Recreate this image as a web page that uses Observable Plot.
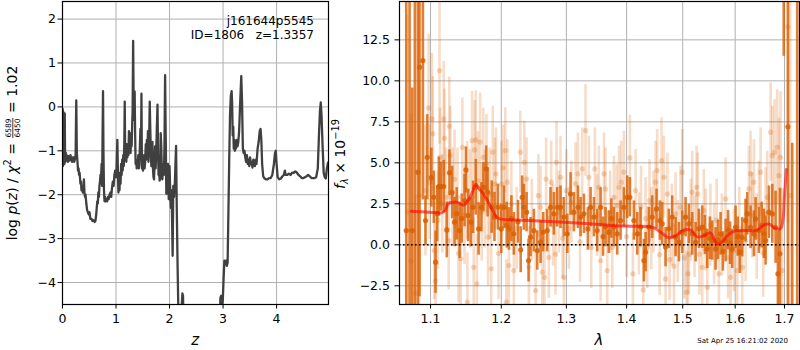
<!DOCTYPE html>
<html><head><meta charset="utf-8">
<script src="https://cdn.jsdelivr.net/npm/d3@7"></script>
<script src="https://cdn.jsdelivr.net/npm/@observablehq/plot@0.6"></script>
<style>
body{margin:0;background:#fff;}
#wrap{position:relative;width:800px;height:350px;overflow:hidden;font-family:"DejaVu Sans",sans-serif;}
#wrap svg{position:absolute;top:0;}
#wrap svg text{white-space:pre;}
</style></head><body><div id="wrap"></div>
<script>
// ---------- Left panel: log p(z) ----------
const pzZ = [0.000,0.004,0.008,0.012,0.016,0.020,0.024,0.030,0.036,0.042,0.048,0.055,0.062,0.070,0.078,0.086,0.094,0.102,0.110,0.120,0.130,0.140,0.150,0.160,0.170,0.180,0.190,0.200,0.210,0.220,0.235,0.245,0.257,0.268,0.280,0.290,0.300,0.310,0.320,0.335,0.345,0.355,0.370,0.380,0.390,0.400,0.410,0.420,0.430,0.445,0.460,0.475,0.490,0.505,0.520,0.540,0.560,0.580,0.600,0.615,0.630,0.640,0.650,0.660,0.670,0.680,0.690,0.700,0.710,0.720,0.730,0.740,0.750,0.757,0.765,0.775,0.785,0.795,0.805,0.820,0.835,0.850,0.865,0.880,0.895,0.910,0.925,0.940,0.955,0.970,0.985,1.000,1.010,1.025,1.035,1.045,1.055,1.065,1.075,1.085,1.095,1.105,1.115,1.125,1.135,1.145,1.155,1.163,1.172,1.182,1.192,1.202,1.212,1.222,1.232,1.242,1.252,1.262,1.272,1.282,1.292,1.302,1.310,1.320,1.330,1.340,1.348,1.356,1.366,1.376,1.386,1.396,1.406,1.416,1.426,1.436,1.446,1.456,1.466,1.475,1.484,1.494,1.504,1.514,1.524,1.534,1.544,1.556,1.566,1.576,1.586,1.596,1.606,1.616,1.630,1.640,1.650,1.660,1.670,1.680,1.690,1.700,1.710,1.720,1.730,1.740,1.750,1.760,1.775,1.785,1.795,1.805,1.815,1.825,1.835,1.845,1.855,1.865,1.875,1.885,1.895,1.905,1.917,1.928,1.940,1.955,1.970,1.985,2.000,2.015,2.025,2.035,2.045,2.058,2.070,2.085,2.100,2.122,2.135,2.150,2.170,2.200,2.225,2.240,2.252,2.265,2.300,2.900,2.940,2.950,2.965,2.980,2.995,3.010,3.025,3.040,3.055,3.070,3.085,3.100,3.115,3.130,3.145,3.160,3.170,3.180,3.190,3.200,3.210,3.220,3.230,3.240,3.255,3.270,3.285,3.300,3.320,3.340,3.355,3.370,3.385,3.400,3.415,3.430,3.445,3.460,3.475,3.490,3.505,3.520,3.535,3.550,3.565,3.580,3.595,3.610,3.625,3.645,3.665,3.685,3.700,3.715,3.730,3.750,3.770,3.800,3.830,3.860,3.890,3.920,3.950,3.970,3.985,4.000,4.020,4.050,4.080,4.110,4.135,4.155,4.170,4.200,4.230,4.260,4.290,4.320,4.350,4.380,4.410,4.440,4.470,4.500,4.530,4.560,4.590,4.620,4.650,4.680,4.710,4.740,4.770,4.790,4.810,4.825,4.840,4.860,4.880,4.900,4.920,4.940,4.960,4.970];
const pzLogP = [-1.20,-0.05,-1.35,-0.10,-1.30,-0.60,-1.25,-0.20,-1.30,-0.15,-1.10,-1.25,-1.05,-1.20,-1.10,-1.22,-1.15,-1.25,-1.12,-1.20,-1.15,-1.22,-1.10,-1.20,-1.18,-1.25,-1.15,-1.20,-1.15,-1.25,-1.18,-1.10,0.15,-1.05,-1.25,-1.45,-1.40,-1.55,-1.50,-1.75,-1.70,-1.90,-1.85,-1.95,-1.90,-1.65,-1.95,-2.05,-2.00,-2.20,-2.35,-2.40,-2.45,-2.40,-2.55,-2.55,-2.60,-2.58,-2.62,-2.60,-2.45,-2.30,-2.15,-2.20,-1.95,-2.05,-1.80,-1.70,-1.55,-1.65,-1.30,-1.80,-0.50,0.36,-1.00,-1.90,-2.15,-2.05,-2.15,-2.10,-2.15,-2.05,-2.10,-2.00,-1.95,-2.05,-1.85,-1.70,-1.80,-1.55,-1.45,-1.60,-1.40,-0.75,-1.50,-1.95,-1.70,-1.90,-1.50,-1.75,-1.30,-1.55,-1.20,-1.45,-1.10,-1.35,-0.80,0.12,-1.20,-1.00,-1.25,-0.85,-1.15,-0.95,-1.10,-0.55,-1.00,-0.80,-1.05,-0.60,-0.90,-0.40,-0.10,1.50,0.00,-0.30,0.35,-0.50,-1.30,-1.20,-1.40,-1.30,-1.35,-1.10,-1.40,-1.30,-0.90,-0.50,-1.20,0.30,-1.40,-1.30,-1.45,-1.35,-1.10,-1.40,-1.25,-0.85,-1.20,-0.75,-1.10,-0.55,-1.25,-1.00,0.12,-0.50,-1.00,-1.35,-1.10,-0.80,-1.40,-1.60,-1.65,-1.30,-0.90,-1.40,-1.10,-0.60,0.05,-1.00,-1.55,-1.45,-1.68,-1.60,-0.60,-0.90,-1.40,-1.65,-1.50,-1.30,-1.55,-0.90,0.72,-0.60,-1.98,-1.50,-1.30,-2.10,-1.35,-2.00,-2.30,-1.90,-2.40,-3.39,-1.80,-2.05,-1.70,-0.89,-2.30,-3.60,-5.00,-7.00,-4.60,-4.25,-4.30,-5.50,-8.00,-8.00,-5.00,-4.35,-4.30,-4.60,-4.40,-3.90,-3.50,-3.55,-3.50,-3.62,-3.55,-2.40,-1.20,-0.20,0.25,0.36,0.05,-0.65,-0.45,-0.95,-0.75,-1.00,-0.80,-0.95,-0.75,-0.90,-0.80,-0.55,0.10,0.70,0.10,-0.95,-1.05,-1.00,-1.15,-1.25,-1.10,-1.30,-1.20,-1.35,-1.15,-1.30,-1.25,-1.38,-1.20,-1.30,-1.35,-1.20,-1.30,-0.95,-0.80,-0.55,-0.50,-0.75,-1.30,-1.58,-1.62,-1.65,-1.65,-1.62,-1.62,-1.55,-1.30,-1.05,-1.00,-1.30,-1.60,-1.65,-1.63,-1.58,-1.55,-1.45,-1.55,-1.55,-1.52,-1.55,-1.50,-1.50,-1.47,-1.50,-1.55,-1.58,-1.62,-1.62,-1.60,-1.58,-1.55,-1.58,-1.62,-1.62,-1.62,-1.60,-1.40,-0.70,-0.10,0.10,-0.20,-0.90,-1.50,-1.60,-1.63,-1.40,-1.27,-1.30];
const zTicks = [0,1,2,3,4];
const logpTicks = [-4,-3,-2,-1,0,1,2];
const objName = "j161644p5545";
const objInfo = "ID=1806   z=1.3357";

// ---------- Right panel: spectrum ----------
const darkLam = [1.0676,1.0720,1.0755,1.0790,1.0830,1.0852,1.0897,1.0932,1.0955,1.1010,1.1045,1.1068,1.1090,1.1113,1.1140,1.1180,1.1222,1.1259,1.1296,1.1330,1.1360,1.1400,1.1430,1.1470,1.1490,1.1520,1.1560,1.1590,1.1630,1.1670,1.1710,1.1740,1.1780,1.1800,1.1860,1.1900,1.1950,1.2000,1.2040,1.2080,1.2113,1.2150,1.2187,1.2250,1.2290,1.2312,1.2338,1.2379,1.2410,1.2440,1.2491,1.2542,1.2594,1.2635,1.2697,1.2749,1.2802,1.2854,1.2907,1.2960,1.3014,1.3067,1.3121,1.3186,1.3229,1.3284,1.3349,1.3393,1.3448,1.3503,1.3559,1.3600,1.3642,1.3697,1.3740,1.3783,1.3839,1.3896,1.3953,1.4010,1.4056,1.4126,1.4184,1.4242,1.4301,1.4331,1.4389,1.4448,1.4525,1.4585,1.4627,1.4687,1.4747,1.4808,1.4869,1.4930,1.4991,1.5053,1.5115,1.5177,1.5240,1.5301,1.5364,1.5415,1.5460,1.5510,1.5555,1.5619,1.5665,1.5715,1.5760,1.5812,1.5860,1.5900,1.5942,1.6008,1.6050,1.6093,1.6140,1.6206,1.6239,1.6306,1.6373,1.6406,1.6474,1.6530,1.6575,1.6610,1.6678,1.6747,1.6815,1.6863,1.6905,1.6985,1.7072,1.7163,1.7269];
const darkFlux = [0.87,18,0.87,18,4.43,10.83,11.24,1.48,5.34,4.10,2.90,-1.06,1.90,3.55,3.55,3.55,0.91,4.39,3.19,1.38,1.89,0.87,1.60,2.70,4.57,1.79,1.38,2.29,3.51,0.97,2.29,3.51,4.63,3.20,2.30,1.70,2.30,0.97,2.29,1.20,0.97,1.60,0.67,1.40,-0.30,2.90,2.29,1.99,-0.96,0.47,0.87,-0.35,0.16,0.77,0.87,2.29,1.89,2.29,2.29,1.69,0.67,3.10,1.99,2.29,1.69,1.89,0.97,2.29,1.69,0.87,2.29,0.50,1.08,0.77,1.60,1.08,0.67,1.48,2.29,2.90,2.90,1.48,0.67,1.08,-0.96,-0.45,1.08,1.69,2.19,1.48,1.28,-0.14,0.98,1.69,0.47,0.16,0.77,1.69,1.28,0.67,0.16,0.98,1.08,0.60,-0.25,0.40,0.26,-0.25,0.30,0.67,-0.40,0.26,0.90,0.10,-0.25,1.07,0.50,-0.45,0.46,1.48,1.89,1.07,0.67,1.58,0.87,1.20,0.67,0.26,1.99,1.89,1.07,-1.77,-0.55,22,7.20,-6.0,20];
const darkErr = [22,22,8.7,22,12,14,8.5,1.5,2.6,1.8,1.6,1.9,1.7,1.8,1.5,1.6,1.7,1.4,1.6,1.5,1.6,1.7,1.5,1.6,1.4,1.6,1.5,1.6,1.7,1.6,1.5,1.5,1.4,1.5,1.6,1.5,1.4,1.5,1.3,1.4,1.3,1.4,1.3,1.3,1.4,1.3,1.4,1.2,1.3,1.2,1.3,1.2,1.3,1.2,1.3,1.2,1.3,1.2,1.3,1.2,1.2,1.3,1.2,1.3,1.2,1.2,1.3,1.2,1.2,1.3,1.2,1.2,1.2,1.3,1.2,1.2,1.3,1.2,1.2,1.3,1.2,1.2,1.3,1.2,1.3,1.2,1.2,1.3,1.2,1.2,1.3,1.2,1.2,1.3,1.2,1.2,1.3,1.2,1.2,1.3,1.2,1.2,1.3,1.2,1.2,1.3,1.2,1.3,1.2,1.3,1.2,1.3,1.2,1.3,1.2,1.3,1.2,1.3,1.2,1.3,1.3,1.3,1.4,1.3,1.4,1.4,1.5,1.5,1.6,1.8,2.2,2.6,4.0,10.5,20,12.2,30];

const lightLam = [1.0690,1.0740,1.0799,1.0850,1.0932,1.0973,1.0986,1.1018,1.1031,1.1050,1.1068,1.1100,1.1122,1.1131,1.1160,1.1180,1.1190,1.1212,1.1248,1.1257,1.1270,1.1302,1.1330,1.1370,1.1385,1.1416,1.1439,1.1470,1.1507,1.1510,1.1545,1.1576,1.1600,1.1613,1.1630,1.1645,1.1660,1.1692,1.1715,1.1737,1.1760,1.1783,1.1806,1.1830,1.1852,1.1875,1.1907,1.1921,1.1960,1.2004,1.2030,1.2060,1.2075,1.2090,1.2113,1.2150,1.2187,1.2230,1.2284,1.2345,1.2379,1.2415,1.2460,1.2517,1.2560,1.2594,1.2620,1.2655,1.2680,1.2723,1.2760,1.2790,1.2828,1.2843,1.2880,1.2907,1.2940,1.2960,1.3000,1.3040,1.3080,1.3147,1.3186,1.3220,1.3256,1.3310,1.3365,1.3404,1.3464,1.3500,1.3530,1.3559,1.3615,1.3640,1.3670,1.3720,1.3755,1.3783,1.3830,1.3870,1.3907,1.3953,1.4000,1.4056,1.4108,1.4155,1.4213,1.4250,1.4289,1.4330,1.4360,1.4400,1.4430,1.4470,1.4508,1.4537,1.4580,1.4615,1.4657,1.4687,1.4720,1.4760,1.4800,1.4840,1.4869,1.4910,1.4960,1.4991,1.5030,1.5070,1.5096,1.5115,1.5150,1.5177,1.5220,1.5258,1.5280,1.5312,1.5364,1.5395,1.5430,1.5460,1.5520,1.5590,1.5640,1.5683,1.5740,1.5812,1.5860,1.5910,1.5975,1.6041,1.6080,1.6140,1.6206,1.6272,1.6306,1.6340,1.6373,1.6430,1.6474,1.6508,1.6560,1.6610,1.6644,1.6713,1.6747,1.6794,1.6849,1.6884,1.6918,1.6953,1.7072,1.7120];
const lightFlux = [2.0,-1.0,-2.95,3.0,3.31,8.35,3.82,7.68,6.77,-0.35,-2.18,1.50,10.63,5.34,2.50,7.68,6.50,2.90,0.26,7.23,5.44,2.90,4.00,2.90,-0.53,-0.85,5.95,1.80,3.31,-3.50,2.80,6.36,-1.37,5.79,6.40,-2.38,3.90,6.26,2.00,5.34,2.80,4.94,0.47,3.10,-1.46,5.65,3.71,4.33,-0.53,3.71,4.70,5.75,-3.50,3.82,-1.26,2.50,-1.57,1.00,5.65,5.03,4.01,-1.37,1.50,-2.79,3.00,2.29,-1.67,-1.98,4.01,-0.77,3.82,1.20,-0.57,5.03,2.00,4.12,0.40,-1.98,3.30,1.00,2.60,3.72,4.33,0.20,4.63,6.97,4.12,-0.16,4.63,1.80,3.51,-0.96,4.33,3.41,-1.57,2.00,-0.16,2.90,2.39,3.51,3.82,4.43,0.50,5.30,-1.77,3.31,0.67,2.30,-2.75,1.60,-0.16,2.70,0.98,2.00,3.82,4.53,-0.60,5.14,4.12,-2.08,3.10,-0.90,1.20,-1.30,1.89,0.20,2.29,4.43,-0.80,-2.89,-1.77,-0.57,1.50,3.21,0.50,3.51,3.10,-0.57,-1.37,2.10,0.90,-2.59,1.20,0.06,1.50,-1.77,0.60,2.80,-0.80,-1.98,-0.35,-1.57,1.00,-1.37,0.26,3.41,4.33,1.80,3.82,0.50,2.39,4.43,-0.50,1.89,2.90,6.87,5.44,5.65,5.95,4.22,5.34,-1.57,13.30,3.0];
const lightErr = [12,9,6,7,4,4.5,3.5,4,3.5,3,3.5,3,4.5,3,3,3.5,3,3,3,3,3,3,3,3,3,3,3,3,3,3,3,3,3,3,3,3,3,3,3,3,3,3,3,2.8,2.8,2.8,2.8,2.8,2.8,2.6,2.6,2.6,2.6,2.6,2.6,2.6,2.6,2.5,2.5,2.5,2.5,2.5,2.5,2.5,2.5,2.5,2.5,2.5,2.5,2.5,2.5,2.5,2.5,2.5,2.5,2.5,2.5,2.5,2.5,2.5,2.5,2.5,2.5,2.5,2.5,2.8,2.5,2.5,2.5,2.5,2.5,2.5,2.5,2.5,2.5,2.5,2.5,2.5,2.5,2.5,2.5,2.5,2.5,2.6,2.5,2.5,2.5,2.5,2.5,2.5,2.5,2.5,2.5,2.5,2.5,2.5,2.5,2.6,2.5,2.5,2.5,2.5,2.5,2.5,2.5,2.5,2.5,2.6,2.5,2.5,2.5,2.5,2.5,2.5,2.5,2.5,2.5,2.5,2.5,2.5,2.5,2.5,2.5,2.5,2.5,2.5,2.5,2.5,2.5,2.5,2.5,2.5,2.5,2.5,2.5,2.6,2.6,2.6,2.6,2.6,2.7,2.7,2.7,2.8,2.8,3,3,3.2,3.5,3.5,4,5,12,20];

const modelLam = [1.074,1.090,1.105,1.115,1.120,1.124,1.130,1.137,1.145,1.152,1.158,1.163,1.168,1.174,1.181,1.188,1.193,1.198,1.250,1.296,1.350,1.380,1.407,1.445,1.460,1.475,1.487,1.502,1.515,1.527,1.540,1.552,1.565,1.575,1.585,1.600,1.644,1.657,1.670,1.680,1.692,1.697,1.700,1.704];
const modelFlux = [2.05,2.02,1.97,1.95,2.10,2.50,2.60,2.60,2.42,2.70,3.20,3.70,3.40,3.10,2.60,2.05,1.70,1.58,1.47,1.38,1.25,1.16,1.13,1.07,0.77,0.43,0.56,0.90,0.90,0.48,0.56,0.73,0.05,0.20,0.57,0.85,0.90,1.20,1.25,1.00,1.00,1.60,3.00,4.60];
const lamTicks = [1.1,1.2,1.3,1.4,1.5,1.6,1.7];
const fluxTicks = [-2.5,0,2.5,5,7.5,10,12.5];
const stamp = "Sat Apr 25 16:21:02 2020";

// ---------- drawing ----------
const wrap = document.getElementById("wrap");
const FONT = "DejaVu Sans";
const minus = d => d < 0 ? "\u2212" + Math.abs(d) : String(d);
const gridC = "#b0b0b0";
const orange = "#d95f02";

const leftSvg = Plot.plot({
  width: 340, height: 350,
  marginLeft: 62, marginRight: 12, marginTop: 1, marginBottom: 46,
  style: {fontFamily: FONT, fontSize: "12.5px", color: "#000", background: "transparent", overflow: "visible"},
  x: {domain: [0, 4.97], ticks: zTicks, tickFormat: minus, label: null, tickSize: 4.5, tickPadding: 5},
  y: {domain: [-4.5, 2.4], ticks: logpTicks, tickFormat: minus, label: null, tickSize: 4.5, tickPadding: 2},
  marks: [
    Plot.ruleX(zTicks, {stroke: gridC, strokeWidth: 1}),
    Plot.ruleY(logpTicks, {stroke: gridC, strokeWidth: 1}),
    Plot.line(pzZ.map((z, i) => ({z, v: pzLogP[i]})), {x: "z", y: "v", stroke: "#404040", strokeWidth: 2.3, clip: true}),
    Plot.frame({stroke: "#000", strokeWidth: 1.2})
  ]
});
leftSvg.style.left = "0px";
wrap.appendChild(leftSvg);

const dIdx = d3.range(darkLam.length);
const lIdx = d3.range(lightLam.length);
const rightSvg = Plot.plot({
  width: 470, height: 350,
  marginLeft: 69, marginRight: 1, marginTop: 1, marginBottom: 46,
  style: {fontFamily: FONT, fontSize: "12.5px", color: "#000", background: "transparent", overflow: "visible"},
  x: {type: "log", domain: [1.0588, 1.7317], ticks: lamTicks, tickFormat: d3.format(".1f"), label: null, tickSize: 4.5, tickPadding: 5},
  y: {domain: [-3.64, 14.84], ticks: fluxTicks, tickFormat: d3.format(".1f"), label: null, tickSize: 4.5, tickPadding: 5},
  marks: [
    Plot.ruleX(lamTicks, {stroke: gridC, strokeWidth: 1}),
    Plot.ruleY(fluxTicks, {stroke: gridC, strokeWidth: 1}),
    Plot.ruleX(lIdx, {x: i => lightLam[i], y1: i => lightFlux[i] - lightErr[i], y2: i => lightFlux[i] + lightErr[i], stroke: orange, strokeOpacity: 0.22, strokeWidth: 2.6, clip: true}),
    Plot.dot(lIdx, {x: i => lightLam[i], y: i => lightFlux[i], r: 2.6, fill: orange, fillOpacity: 0.25, stroke: "none", clip: true}),
    Plot.ruleX(dIdx, {x: i => darkLam[i], y1: i => darkFlux[i] - darkErr[i], y2: i => darkFlux[i] + darkErr[i], stroke: orange, strokeOpacity: 0.8, strokeWidth: 2.6, clip: true}),
    Plot.dot(dIdx, {x: i => darkLam[i], y: i => darkFlux[i], r: 2.6, fill: orange, fillOpacity: 0.85, stroke: "none", clip: true}),
    Plot.ruleY([0], {stroke: "#000", strokeWidth: 1.6, strokeDasharray: "1.6,2.4"}),
    Plot.line(modelLam.map((l, i) => ({l, f: modelFlux[i]})), {x: "l", y: "f", stroke: "red", strokeOpacity: 0.6, strokeWidth: 3, curve: "catmull-rom", clip: true}),
    Plot.frame({stroke: "#000", strokeWidth: 1.2})
  ]
});
rightSvg.style.left = "330px";
wrap.appendChild(rightSvg);

// ---------- overlay labels ----------
const ov = d3.select(wrap).append("svg").attr("width", 800).attr("height", 350)
  .style("left", "0px").style("pointer-events", "none")
  .attr("font-family", FONT);

// in-panel annotation, right edge at x=314
function rightText(str, xr, y, fs) {
  const t = ov.append("text").attr("y", y).attr("font-size", fs).attr("xml:space", "preserve").text(str);
  const w = t.node().getComputedTextLength();
  t.attr("x", xr - w);
  return t;
}
rightText(objName, 314, 25, 12);
rightText(objInfo, 314, 38.5, 12);

// left y label
const LFS = 14;
const gL = ov.append("g");
const t1 = gL.append("text").attr("font-size", LFS).attr("fill", "#000");
t1.append("tspan").text("log ");
t1.append("tspan").attr("font-style", "italic").text("p");
t1.append("tspan").text("(");
t1.append("tspan").attr("font-style", "italic").text("z");
t1.append("tspan").text(") / ");
t1.append("tspan").attr("font-style", "italic").text("\u03c7");
t1.append("tspan").attr("font-size", LFS * 0.7).attr("dy", -LFS * 0.42).text("2");
t1.append("tspan").attr("dy", LFS * 0.42).text(" = ");
const w1 = t1.node().getComputedTextLength();
const FFS = 7.5, barY = -LFS * 0.3;
const num = gL.append("text").attr("font-size", FFS).attr("x", w1 + 1).attr("y", barY - 1.6).text("6589");
const den = gL.append("text").attr("font-size", FFS).attr("x", w1 + 1).attr("y", barY + 1.4 + FFS * 0.73).text("6450");
const fw = Math.max(num.node().getComputedTextLength(), den.node().getComputedTextLength());
gL.append("line").attr("x1", w1 + 0.5).attr("x2", w1 + fw + 1.5).attr("y1", barY).attr("y2", barY).attr("stroke", "#000").attr("stroke-width", 0.8);
const t3 = gL.append("text").attr("font-size", LFS).attr("x", w1 + fw + 2).text(" = 1.02");
const W = w1 + fw + 2 + t3.node().getComputedTextLength();
gL.attr("transform", `translate(17,153) rotate(-90) translate(${-W / 2},0)`);

// right y label
const gR = ov.append("g");
const r1 = gR.append("text").attr("font-size", LFS).attr("fill", "#000");
r1.append("tspan").attr("font-style", "italic").text("f");
r1.append("tspan").attr("font-size", LFS * 0.7).attr("font-style", "italic").attr("dy", LFS * 0.22).text("\u03bb");
r1.append("tspan").attr("dy", -LFS * 0.22).text(" \u00d7 10");
r1.append("tspan").attr("font-size", LFS * 0.7).attr("dy", -LFS * 0.42).text("\u221219");
const RW = r1.node().getComputedTextLength();
gR.attr("transform", `translate(345,154) rotate(-90) translate(${-RW / 2},0)`);

// x labels
ov.append("text").attr("x", 195.3).attr("y", 345).attr("text-anchor", "middle").attr("font-size", 15).attr("font-style", "italic").text("z");
ov.append("text").attr("x", 599).attr("y", 345).attr("text-anchor", "middle").attr("font-size", 15).attr("font-style", "italic").text("\u03bb");
// timestamp
ov.append("text").attr("x", 788).attr("y", 342.5).attr("text-anchor", "end").attr("font-size", 7).text(stamp);
</script></body></html>
